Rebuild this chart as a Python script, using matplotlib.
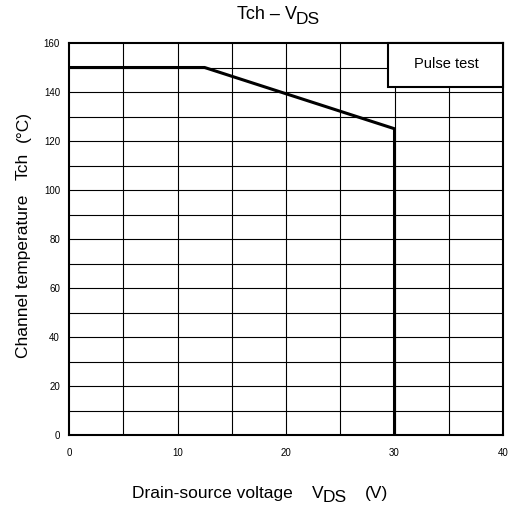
# Tch - VDS derating curve
import numpy as np
import matplotlib.pyplot as plt
from matplotlib.patches import Rectangle

plt.rcParams['font.family'] = ['Liberation Sans', 'DejaVu Sans']

# ---- data
VDS  = [0, 12.5, 30, 30]      # V
TCH  = [150, 150, 125, 0]     # degC
XLIM = (0, 40)
YLIM = (0, 160)
XTICKS = [0, 10, 20, 30, 40]
YTICKS = [0, 20, 40, 60, 80, 100, 120, 140, 160]

W = H = 508
FS = 12.5   # label font size

def fx(x): return x / W          # pixel -> figure fraction
def fy(y): return 1 - y / H

fig = plt.figure(figsize=(5.08, 5.08), dpi=100)
ax = fig.add_axes([fx(69), fy(435), 434/W, 392/H])

# grid every 5 V and 10 degC
for x in np.arange(5, 40, 5):
    ax.axvline(x, color='black', lw=0.8, zorder=1)
for y in np.arange(10, 160, 10):
    ax.axhline(y, color='black', lw=0.8, zorder=1)

ax.plot(VDS, TCH, color='black', lw=2.2, zorder=3, solid_joinstyle='miter')

ax.set_xlim(*XLIM)
ax.set_ylim(*YLIM)
ax.set_xticks(XTICKS)
ax.set_yticks(YTICKS)
ax.tick_params(length=0, labelsize=7, pad=6.5)
ax.tick_params(axis='x', pad=9.5)
for s in ax.spines.values():
    s.set_linewidth(1.5)

# "Pulse test" box
ax.add_patch(Rectangle((0.735, 0.888), 0.265, 0.112, transform=ax.transAxes,
                       facecolor='white', edgecolor='black', lw=1.5,
                       clip_on=False, zorder=5))
ax.text(0.869, 0.946, 'Pulse test', transform=ax.transAxes, ha='center',
        va='center', fontsize=10.5, zorder=6)

# title  (subscript drawn as a lowered piece, nearly full size)
fig.text(fx(297), fy(19), 'Tch – V', ha='right', va='baseline', fontsize=13)
fig.text(fx(296), fy(24), 'DS', ha='left', va='baseline', fontsize=FS)

# x label
fig.text(fx(132), fy(498), 'Drain-source voltage', ha='left', va='baseline', fontsize=FS)
fig.text(fx(312), fy(498), 'V', ha='left', va='baseline', fontsize=FS)
fig.text(fx(323), fy(502), 'DS', ha='left', va='baseline', fontsize=FS)
fig.text(fx(365), fy(498), '(V)', ha='left', va='baseline', fontsize=FS)

# y label
for txt, y0 in [('Channel temperature', 358), ('Tch', 180), ('(°C)', 142)]:
    fig.text(fx(28), fy(y0), txt, rotation=90, rotation_mode='anchor',
             ha='left', va='baseline', fontsize=FS)

fig.savefig('out.png', dpi=100)
